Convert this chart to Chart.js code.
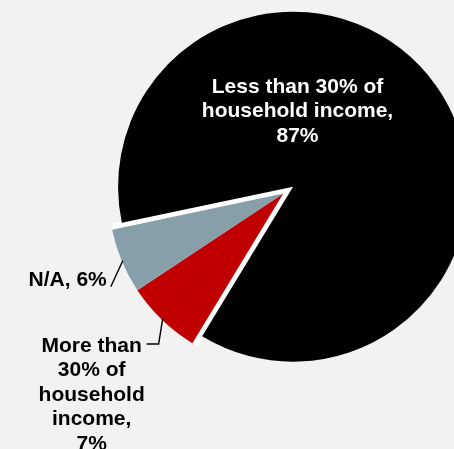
<!DOCTYPE html>
<html>
<head>
<meta charset="utf-8">
<script src="https://cdn.jsdelivr.net/npm/chart.js@4.4.1/dist/chart.umd.min.js"></script>
<style>
html,body{margin:0;padding:0;background:#f2f2f2;overflow:hidden;width:454px;height:449px;}
#c{position:absolute;left:0;top:0;}
</style>
</head>
<body>
<canvas id="c" width="480" height="449" style="width:480px;height:449px"></canvas>
<script>
const categories = ["Less than 30% of household income", "More than 30% of household income", "N/A"];
const values = [87, 7, 6];
const sliceLabels = [
  ["Less than 30% of", "household income,", "87%"],
  ["More than", "30% of", "household", "income,", "7%"],
  ["N/A, 6%"]
];
const sliceColors = ["#000000", "#c00000", "#889fa9"];
const explodeAmounts = [12, 0, 0];

const FONT = 'bold 21px "Liberation Sans", Arial, Helvetica, sans-serif';
const LINE_H = 24.5;

function midPoint(arc, rad) {
  const m = (arc.startAngle + arc.endAngle) / 2;
  return { x: arc.x + Math.cos(m) * rad, y: arc.y + Math.sin(m) * rad, a: m };
}

// exploded drawing: white band in the gap, then every slice moved along its mid-angle
const explodePlugin = {
  id: 'explodePlugin',
  beforeDatasetDraw(chart, args) {
    const meta = args.meta;
    const arcs = meta.data;
    const a1 = arcs[1], a2 = arcs[2];
    const ctx = chart.ctx;
    const x = a1.x, y = a1.y, r = a1.outerRadius;
    ctx.save();
    ctx.beginPath(); ctx.arc(x, y, r, 0, Math.PI * 2); ctx.clip();
    ctx.beginPath();
    ctx.moveTo(x, y);
    ctx.arc(x, y, r, a1.startAngle, a2.endAngle);
    ctx.closePath();
    ctx.fillStyle = '#ffffff';
    ctx.strokeStyle = '#ffffff';
    ctx.lineWidth = 12;
    ctx.lineJoin = 'miter';
    ctx.fill();
    ctx.stroke();
    ctx.restore();

    arcs.forEach((arc, i) => {
      const m = (arc.startAngle + arc.endAngle) / 2;
      const e = explodeAmounts[i] || 0;
      ctx.save();
      ctx.translate(Math.cos(m) * e, Math.sin(m) * e);
      arc.draw(ctx, chart.chartArea);
      ctx.restore();
    });
    return false;
  }
};

const labelPlugin = {
  id: 'labelPlugin',
  afterDatasetsDraw(chart) {
    const ctx = chart.ctx;
    const meta = chart.getDatasetMeta(0);
    const black = meta.data[0], red = meta.data[1], gray = meta.data[2];
    ctx.save();
    ctx.font = FONT;
    ctx.textBaseline = 'alphabetic';

    const bm = (black.startAngle + black.endAngle) / 2;
    const off = explodeAmounts[0];
    const bx = black.x + Math.cos(bm) * off, by = black.y + Math.sin(bm) * off;
    ctx.fillStyle = '#ffffff';
    ctx.textAlign = 'center';
    sliceLabels[0].forEach((t, i) => ctx.fillText(t, bx + 4.4, by - 94 + i * LINE_H));

    ctx.strokeStyle = '#000000';
    ctx.lineWidth = 1.4;
    ctx.fillStyle = '#000000';

    const g = midPoint(gray, gray.outerRadius - 1);
    ctx.beginPath();
    ctx.moveTo(g.x, g.y);
    ctx.lineTo(g.x - 12, g.y + 26);
    ctx.stroke();
    ctx.textAlign = 'right';
    ctx.fillText(sliceLabels[2][0], g.x - 16, g.y + 25.5);

    const r = midPoint(red, red.outerRadius - 1);
    ctx.beginPath();
    ctx.moveTo(r.x, r.y);
    ctx.lineTo(r.x - 4, r.y + 25);
    ctx.lineTo(r.x - 16, r.y + 25);
    ctx.stroke();
    ctx.textAlign = 'center';
    sliceLabels[1].forEach((t, i) => ctx.fillText(t, r.x - 71, r.y + 32.7 + i * LINE_H));
    ctx.restore();
  }
};

new Chart(document.getElementById('c'), {
  type: 'pie',
  data: {
    labels: categories,
    datasets: [{
      data: values,
      backgroundColor: sliceColors,
      borderWidth: 0,
      hoverBorderWidth: 0,
      offset: 0,
      hoverOffset: 0
    }]
  },
  options: {
    responsive: false,
    animation: false,
    events: [],
    rotation: 258.1,
    layout: { padding: { left: 108.3, top: 18.6, right: 21.7, bottom: 80.4 } },
    plugins: { legend: { display: false }, tooltip: { enabled: false } }
  },
  plugins: [explodePlugin, labelPlugin]
});
</script>
</body>
</html>
